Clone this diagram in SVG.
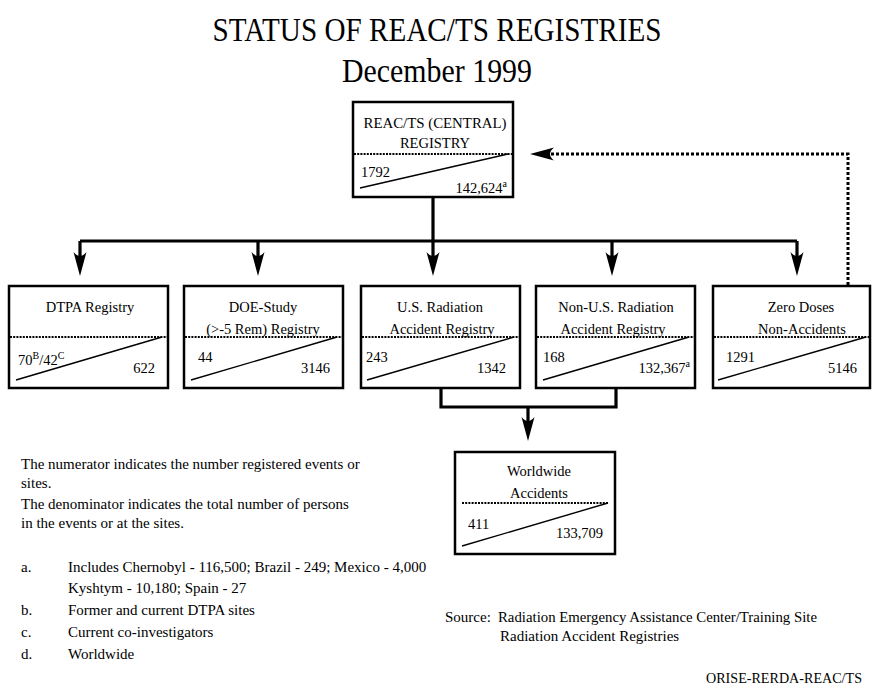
<svg xmlns="http://www.w3.org/2000/svg" width="872" height="688" viewBox="0 0 872 688">
<style>
text{font-family:"Liberation Serif","Times New Roman",serif;fill:#000}
.t{font-size:34px;text-anchor:middle}
.lb{font-size:14.5px;text-anchor:middle}
.n{font-size:14.5px}
.r{text-anchor:end}
.lg{font-size:15px}
.box{fill:#fff;stroke:#000;stroke-width:2.5}
.dot{stroke:#000;stroke-width:2;stroke-dasharray:2 1.2;fill:none}
.diag{stroke:#000;stroke-width:1.4;fill:none}
.con{stroke:#000;stroke-width:3.2;fill:none}
.dcon{stroke:#000;stroke-width:3;stroke-dasharray:3 2;fill:none}
.sup{font-size:10px}
</style>
<defs>
<path id="ah" d="M0,0 L-6.5,-24 Q0,-16 6.5,-24 Z" fill="#000"/>
</defs>
<text class="t" x="437" y="41" textLength="449" lengthAdjust="spacingAndGlyphs">STATUS OF REAC/TS REGISTRIES</text>
<text class="t" x="437" y="82" textLength="190" lengthAdjust="spacingAndGlyphs">December 1999</text>

<g id="connectors">
<path class="con" d="M433,197 V241 M80,241 H797 M80,241 V262 M258,241 V262 M433,241 V262 M612,241 V262 M797,241 V262"/>
<use href="#ah" x="80" y="276"/>
<use href="#ah" x="258" y="276"/>
<use href="#ah" x="433" y="276"/>
<use href="#ah" x="612" y="276"/>
<use href="#ah" x="797" y="276"/>
<path class="con" d="M441,388 V407 H616 V388 M528,407 V428"/>
<use href="#ah" x="528" y="441"/>
<path class="dcon" d="M848,285 V154 H542"/>
<use href="#ah" transform="translate(530,154) rotate(90)"/>
</g>

<g id="central">
<rect class="box" x="353" y="102" width="160" height="95"/>
<text class="lb" x="435" y="128" textLength="143" lengthAdjust="spacingAndGlyphs">REAC/TS (CENTRAL)</text>
<text class="lb" x="435" y="148">REGISTRY</text>
<line class="dot" x1="354" y1="154" x2="512" y2="154"/>
<line class="diag" x1="360" y1="188" x2="508" y2="154"/>
<text class="n" x="361" y="177">1792</text>
<text class="n r" x="507" y="193">142,624<tspan class="sup" dy="-6">a</tspan></text>
</g>

<g id="dtpa">
<rect class="box" x="9" y="286" width="159" height="102"/>
<text class="lb" x="90" y="312">DTPA Registry</text>
<line class="dot" x1="10" y1="337" x2="167" y2="337"/>
<line class="diag" x1="16" y1="380" x2="162" y2="337"/>
<text class="n" x="18" y="365">70<tspan class="sup" dy="-6">B</tspan><tspan dy="6">/42</tspan><tspan class="sup" dy="-6">C</tspan></text>
<text class="n r" x="155" y="373">622</text>
</g>

<g id="doe">
<rect class="box" x="184" y="286" width="159" height="102"/>
<text class="lb" x="263" y="312">DOE-Study</text>
<text class="lb" x="263" y="334">(&gt;-5 Rem) Registry</text>
<line class="dot" x1="185" y1="337" x2="342" y2="337"/>
<line class="diag" x1="191" y1="380" x2="337" y2="337"/>
<text class="n" x="198" y="362">44</text>
<text class="n r" x="330" y="373">3146</text>
</g>

<g id="us">
<rect class="box" x="361" y="286" width="159" height="102"/>
<text class="lb" x="440" y="312">U.S. Radiation</text>
<text class="lb" x="442" y="334">Accident Registry</text>
<line class="dot" x1="362" y1="337" x2="519" y2="337"/>
<line class="diag" x1="367" y1="380" x2="514" y2="337"/>
<text class="n" x="366" y="362">243</text>
<text class="n r" x="506" y="373">1342</text>
</g>

<g id="nonus">
<rect class="box" x="536" y="286" width="159" height="102"/>
<text class="lb" x="616" y="312">Non-U.S. Radiation</text>
<text class="lb" x="613" y="334">Accident Registry</text>
<line class="dot" x1="537" y1="337" x2="694" y2="337"/>
<line class="diag" x1="543" y1="380" x2="689" y2="337"/>
<text class="n" x="543" y="362">168</text>
<text class="n r" x="690" y="373">132,367<tspan class="sup" dy="-6">a</tspan></text>
</g>

<g id="zero">
<rect class="box" x="713" y="286" width="157" height="102"/>
<text class="lb" x="801" y="312">Zero Doses</text>
<text class="lb" x="802" y="334">Non-Accidents</text>
<line class="dot" x1="714" y1="337" x2="869" y2="337"/>
<line class="diag" x1="718" y1="380" x2="866" y2="337"/>
<text class="n" x="726" y="362">1291</text>
<text class="n r" x="857" y="373">5146</text>
</g>

<g id="worldwide">
<rect class="box" x="455" y="452" width="160" height="102"/>
<text class="lb" x="539" y="476">Worldwide</text>
<text class="lb" x="539" y="498">Accidents</text>
<line class="dot" x1="462" y1="503" x2="608" y2="503"/>
<line class="diag" x1="462" y1="546" x2="608" y2="503"/>
<text class="n" x="468" y="529">411</text>
<text class="n r" x="603" y="538">133,709</text>
</g>

<g id="legend">
<text class="lg" x="21" y="469">The numerator indicates the number registered events or</text>
<text class="lg" x="21" y="488">sites.</text>
<text class="lg" x="21" y="509">The denominator indicates the total number of persons</text>
<text class="lg" x="21" y="528">in the events or at the sites.</text>
<text class="lg" x="21" y="572">a.</text>
<text class="lg" x="68" y="572">Includes Chernobyl - 116,500; Brazil - 249; Mexico - 4,000</text>
<text class="lg" x="68" y="593">Kyshtym - 10,180; Spain - 27</text>
<text class="lg" x="21" y="615">b.</text>
<text class="lg" x="68" y="615">Former and current DTPA sites</text>
<text class="lg" x="21" y="637">c.</text>
<text class="lg" x="68" y="637">Current co-investigators</text>
<text class="lg" x="21" y="659">d.</text>
<text class="lg" x="68" y="659">Worldwide</text>
<text class="lg" x="445" y="622">Source:</text>
<text class="lg" x="498" y="622" textLength="319" lengthAdjust="spacingAndGlyphs">Radiation Emergency Assistance Center/Training Site</text>
<text class="lg" x="500" y="641">Radiation Accident Registries</text>
<text class="lg" x="862" y="683" text-anchor="end" textLength="156" lengthAdjust="spacingAndGlyphs">ORISE-RERDA-REAC/TS</text>
</g>
</svg>
